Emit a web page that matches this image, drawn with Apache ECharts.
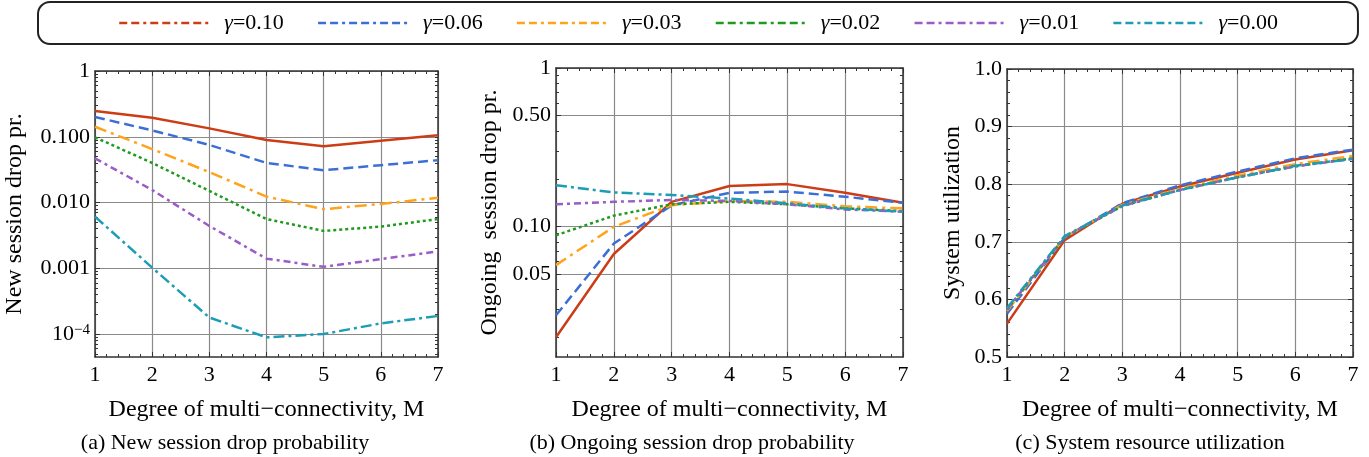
<!DOCTYPE html>
<html>
<head>
<meta charset="utf-8">
<script src="https://cdn.jsdelivr.net/npm/echarts@6/dist/echarts.min.js"></script>
<style>
html,body{margin:0;padding:0;background:#fff;}
#chart{width:1369px;height:457px;}
</style>
</head>
<body>
<div id="chart"></div>
<script>
// series names and the x categories (degree of multi-connectivity)
var names = ['γ=0.10', 'γ=0.06', 'γ=0.03', 'γ=0.02', 'γ=0.01', 'γ=0.00'];
var degrees = [1, 2, 3, 4, 5, 6, 7];

// (a) new session drop probability, one row per gamma
var newDrop = [
  [0.246, 0.195, 0.134, 0.089, 0.072, 0.087, 0.105],
  [0.200, 0.125, 0.075, 0.040, 0.031, 0.037, 0.044],
  [0.142, 0.065, 0.029, 0.0123, 0.0079, 0.0095, 0.0118],
  [0.098, 0.040, 0.015, 0.0056, 0.0037, 0.0043, 0.0056],
  [0.047, 0.0155, 0.0044, 0.0014, 0.00105, 0.00138, 0.0018],
  [0.0061, 0.00102, 0.000178, 0.000089, 0.0001, 0.000145, 0.000188]
];
// (b) ongoing session drop probability
var ongoingDrop = [
  [0.020, 0.067, 0.143, 0.180, 0.185, 0.163, 0.141],
  [0.0275, 0.078, 0.136, 0.163, 0.166, 0.154, 0.141],
  [0.057, 0.0995, 0.136, 0.145, 0.143, 0.134, 0.130],
  [0.088, 0.117, 0.138, 0.143, 0.138, 0.130, 0.125],
  [0.138, 0.143, 0.147, 0.145, 0.138, 0.128, 0.124],
  [0.182, 0.164, 0.158, 0.150, 0.140, 0.130, 0.124]
];
// (c) system resource utilization
var utilization = [
  [0.558, 0.703, 0.766, 0.796, 0.820, 0.843, 0.859],
  [0.575, 0.707, 0.767, 0.798, 0.822, 0.845, 0.860],
  [0.580, 0.708, 0.764, 0.792, 0.815, 0.835, 0.849],
  [0.582, 0.708, 0.762, 0.790, 0.812, 0.831, 0.845],
  [0.583, 0.709, 0.762, 0.790, 0.812, 0.831, 0.844],
  [0.585, 0.710, 0.763, 0.790, 0.812, 0.832, 0.844]
];

// tick values and labels of the y axes
var yTicksA = [1e-4, 1e-3, 0.01, 0.1, 1];
var yLabelsA = ['10{s|−4}', '0.001', '0.010', '0.100', '1'];
var yTicksB = [0.05, 0.1, 0.5, 1];
var yLabelsB = ['0.05', '0.10', '0.50', '1'];

var FONT = '"Liberation Serif", "Times New Roman", serif';
var FRAME = '#333';
var GRID = '#8a8a8a';
var colors = ['#CC3D16', '#3B6FD6', '#FFA31A', '#1E9B1E', '#9A5CC6', '#1C9DB5'];
var dashes = ['solid', [10, 5], [12, 5, 3, 5], [3, 3], [7, 4, 3, 4], [11, 4, 3, 4]];

function logMinor(min, max) {
  var out = [];
  for (var e = -6; e <= 0; e++) {
    for (var k = 2; k <= 9; k++) {
      var v = k * Math.pow(10, e);
      if (v >= min && v <= max) out.push(v);
    }
  }
  return out;
}
function pickLabel(ticks, labels) {
  return function (v) {
    for (var i = 0; i < ticks.length; i++) {
      if (Math.abs(v - ticks[i]) < ticks[i] * 1e-6) return labels[i];
    }
    return '';
  };
}

var panels = [
  { grid: { left: 95, top: 71, width: 343, height: 286 }, data: newDrop, log: true,
    min: 4.47e-5, max: 1, ticks: yTicksA, labels: yLabelsA,
    name: 'New session drop pr.', nameGap: 68 },
  { grid: { left: 556, top: 68, width: 347, height: 289 }, data: ongoingDrop, log: true,
    min: 0.015, max: 1, ticks: yTicksB, labels: yLabelsB,
    name: 'Ongoing  session drop pr.', nameGap: 54 },
  { grid: { left: 1007, top: 69, width: 346, height: 288 }, data: utilization, log: false,
    min: 0.5, max: 1, name: 'System utilization', nameGap: 42 }
];

var tickStyle = { color: FRAME, width: 1 };
var labelStyle = { fontFamily: FONT, fontSize: 22, color: '#000' };
var xAxes = [], yAxes = [], series = [];

panels.forEach(function (p, gi) {
  // bottom and top x axes
  var xMain = xAxes.length;
  [ 'bottom', 'top' ].forEach(function (pos) {
    xAxes.push({
      gridIndex: gi, type: 'value', min: 1, max: 7, interval: 1, position: pos,
      axisLine: { show: true, onZero: false, lineStyle: { color: FRAME, width: 1.5 } },
      axisTick: { show: true, inside: true, length: 5, lineStyle: tickStyle },
      minorTick: { show: true, splitNumber: 5, length: 3, lineStyle: tickStyle },
      splitLine: { show: pos === 'bottom', lineStyle: { color: GRID, width: 1.2 } },
      axisLabel: pos === 'bottom'
        ? { show: true, margin: 7, fontFamily: FONT, fontSize: 22, color: '#000' }
        : { show: false },
      name: pos === 'bottom' ? 'Degree of multi−connectivity, M' : '',
      nameLocation: 'middle', nameGap: 41,
      nameTextStyle: { fontFamily: FONT, fontSize: 24, color: '#000' }
    });
  });

  var yMain = yAxes.length;
  var base = { gridIndex: gi, min: p.min, max: p.max };
  if (p.log) {
    var minors = logMinor(p.min, p.max);
    yAxes.push(Object.assign({}, base, {
      type: 'log', logBase: 10, position: 'left',
      axisLine: { show: true, onZero: false, lineStyle: { color: FRAME, width: 1.5 } },
      axisTick: { show: true, inside: true, length: 5, lineStyle: tickStyle, customValues: p.ticks },
      axisLabel: Object.assign({ show: true, margin: 5, customValues: p.ticks,
        formatter: pickLabel(p.ticks, p.labels),
        rich: { s: { fontFamily: FONT, fontSize: 15, verticalAlign: 'top', lineHeight: 16 } } }, labelStyle),
      splitLine: { show: true, lineStyle: { color: GRID, width: 1.2 } },
      name: p.name, nameLocation: 'middle', nameGap: p.nameGap,
      nameTextStyle: { fontFamily: FONT, fontSize: 24, color: '#000' }
    }));
    // minor ticks on the left side
    yAxes.push(Object.assign({}, base, {
      type: 'log', logBase: 10, position: 'left',
      axisLine: { show: false },
      axisTick: { show: true, inside: true, length: 3, lineStyle: tickStyle, customValues: minors },
      axisLabel: { show: false }, splitLine: { show: false }
    }));
    // right frame
    yAxes.push(Object.assign({}, base, {
      type: 'log', logBase: 10, position: 'right',
      axisLine: { show: true, onZero: false, lineStyle: { color: FRAME, width: 1.5 } },
      axisTick: { show: true, inside: true, length: 3, lineStyle: tickStyle, customValues: minors.concat(p.ticks) },
      axisLabel: { show: false }, splitLine: { show: false }
    }));
  } else {
    ['left', 'right'].forEach(function (pos) {
      yAxes.push(Object.assign({}, base, {
        type: 'value', interval: 0.1, position: pos,
        axisLine: { show: true, onZero: false, lineStyle: { color: FRAME, width: 1.5 } },
        axisTick: { show: true, inside: true, length: 5, lineStyle: tickStyle },
        minorTick: { show: true, splitNumber: 5, length: 3, lineStyle: tickStyle },
        axisLabel: pos === 'left'
          ? Object.assign({ show: true, margin: 5, formatter: function (v) { return v.toFixed(1); } }, labelStyle)
          : { show: false },
        splitLine: { show: pos === 'left', lineStyle: { color: GRID, width: 1.2 } },
        name: pos === 'left' ? p.name : '', nameLocation: 'middle', nameGap: p.nameGap,
        nameTextStyle: { fontFamily: FONT, fontSize: 24, color: '#000' }
      }));
    });
  }

  p.data.forEach(function (row, si) {
    series.push({
      type: 'line', name: names[si], xAxisIndex: xMain, yAxisIndex: yMain,
      data: degrees.map(function (d, k) { return [d, row[k]]; }),
      symbol: 'none', showSymbol: false, smooth: false, animation: false,
      itemStyle: { color: colors[si] },
      lineStyle: { color: colors[si], width: 2.5, type: dashes[si] },
      z: 3
    });
  });
});

var captions = [
  { text: '(a) New session drop probability', x: 225 },
  { text: '(b) Ongoing session drop probability', x: 692 },
  { text: '(c) System resource utilization', x: 1150 }
];

var chart = echarts.init(document.getElementById('chart'));
chart.setOption({
  animation: false,
  grid: panels.map(function (p) { return p.grid; }),
  xAxis: xAxes,
  yAxis: yAxes,
  series: series,
  legend: {
    data: names, top: 2, left: 38,
    padding: [10, 80], itemGap: 33, itemWidth: 90, itemHeight: 14,
    borderColor: '#222', borderWidth: 2, borderRadius: 12,
    itemStyle: { opacity: 0 },
    lineStyle: { type: [8, 4, 8, 4, 3, 4], width: 2.5 },
    formatter: function (n) { return '{g|γ}{t|' + n.slice(1) + '}'; },
    textStyle: {
      fontFamily: FONT, fontSize: 22, color: '#000', lineHeight: 22,
      rich: {
        g: { fontFamily: FONT, fontSize: 22, fontStyle: 'italic', padding: [0, 0, 0, 10] },
        t: { fontFamily: FONT, fontSize: 22 }
      }
    }
  },
  graphic: captions.map(function (c) {
    return {
      type: 'text', x: c.x, y: 443,
      style: { text: c.text, fill: '#000', font: '22px ' + FONT, textAlign: 'center', textVerticalAlign: 'middle' }
    };
  })
});
</script>
</body>
</html>
